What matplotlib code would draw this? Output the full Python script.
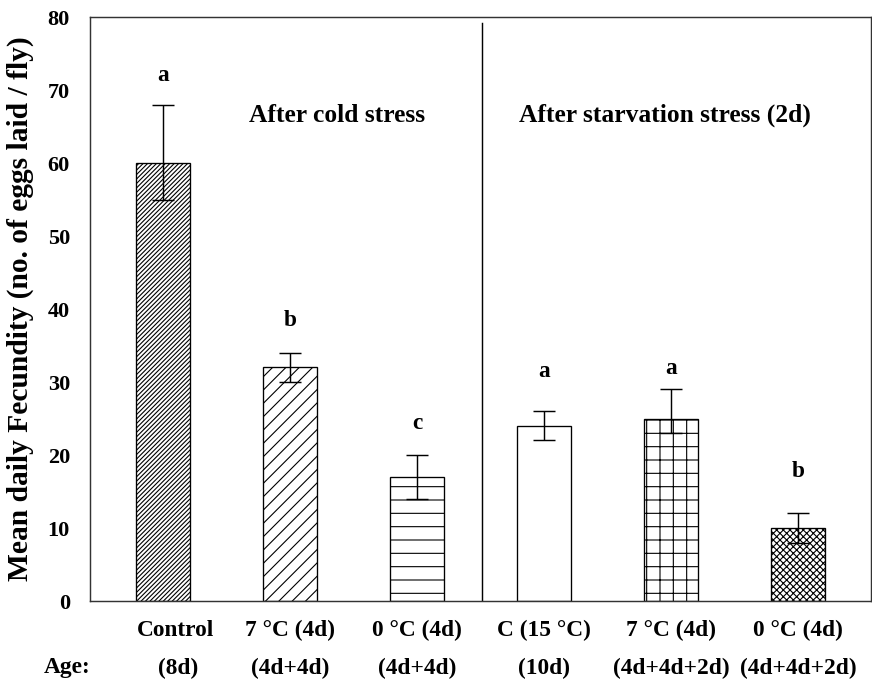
import matplotlib
matplotlib.use("Agg")
import matplotlib.pyplot as plt
from matplotlib.transforms import blended_transform_factory

# data
treatments = ["Control", "7 °C (4d)", "0 °C (4d)", "C (15 °C)", "7 °C (4d)", "0 °C (4d)"]
ages = ["(8d)", "(4d+4d)", "(4d+4d)", "(10d)", "(4d+4d+2d)", "(4d+4d+2d)"]
fecundity = [60, 32, 17, 24, 25, 10]
err_low = [5, 2, 3, 2, 2, 2]
err_high = [8, 2, 3, 2, 4, 2]
letters = ["a", "b", "c", "a", "a", "b"]
letter_y = [72, 38.4, 24.3, 31.4, 31.9, 17.7]
hatches = ["//////", "//", "-", "", "+", "xxxx"]
sections = ["After cold stress", "After starvation stress (2d)"]

plt.rcParams["font.family"] = ["Liberation Serif", "DejaVu Serif"]
plt.rcParams["font.weight"] = "bold"
plt.rcParams["hatch.linewidth"] = 1.0

fig = plt.figure(figsize=(10.9, 8.6125), dpi=80)
ax = fig.add_axes([0.1032, 0.1277, 0.8957, 0.8476])

x = list(range(len(fecundity)))
ax.bar(x, fecundity, width=0.43, color="white", edgecolor="black",
       linewidth=1.2, hatch=hatches, zorder=2)
ax.errorbar(x, fecundity, yerr=[err_low, err_high], fmt="none", ecolor="black",
            elinewidth=1.3, capsize=10, capthick=1.3, zorder=3)

for xi, lab, ly in zip(x, letters, letter_y):
    ax.text(xi, ly, lab, ha="center", va="center", fontsize=21, fontweight="bold")

ax.axvline(2.51, ymin=0, ymax=0.99, color="black", linewidth=1.3)
ax.text(1.37, 66.5, sections[0], ha="center", va="center", fontsize=23, fontweight="bold")
ax.text(3.95, 66.5, sections[1], ha="center", va="center", fontsize=23, fontweight="bold")

ax.set_xlim(-0.575, 5.575)
ax.set_ylim(0, 80)
ax.set_yticks(range(0, 81, 10))
ax.set_xticks([])
ax.tick_params(axis="y", length=0, pad=18, labelsize=20)
for s in ax.spines.values():
    s.set_linewidth(1.3)
    s.set_color("#333333")

ax.set_ylabel("Mean daily Fecundity (no. of eggs laid / fly)", fontsize=26.5,
              fontweight="bold", labelpad=12)

trans = blended_transform_factory(ax.transData, fig.transFigure)
for xi, t, a in zip(x, treatments, ages):
    ax.text(xi + (0.1 if xi == 0 else 0), 1 - 630 / 689, t, transform=trans,
            ha="center", va="center", fontsize=21, fontweight="bold")
    ax.text(xi + (0.12 if xi == 0 else 0), 1 - 668 / 689, a, transform=trans,
            ha="center", va="center", fontsize=21, fontweight="bold")
fig.text(67 / 872, 1 - 668 / 689, "Age:", ha="center", va="center",
         fontsize=21, fontweight="bold")

fig.savefig("out.png", dpi=80)
